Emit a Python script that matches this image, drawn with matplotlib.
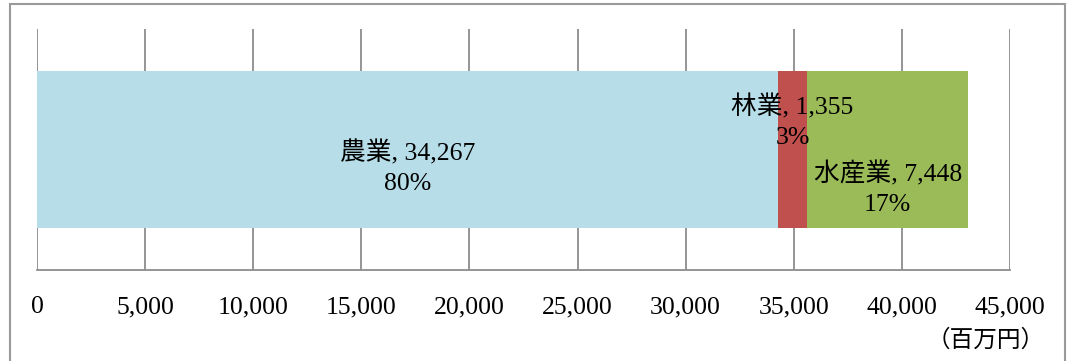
import matplotlib.pyplot as plt
from matplotlib.patches import Rectangle

plt.rcParams['font.family'] = ['Liberation Serif', 'Noto Sans CJK JP']

# 部門別の産出額（百万円）
sectors = ['農業', '林業', '水産業']
values = [34267, 1355, 7448]
colors = ['#B7DEE8', '#C0504D', '#9BBB59']
# ラベルの縦方向のずらし（ポイント）
label_dy = [-13, 20, -28]

xticks = list(range(0, 45001, 5000))

fig = plt.figure(figsize=(10.72, 3.61), dpi=100)
ax = fig.add_axes([0.0345, 0.252, 0.9077, 0.6676])

total = sum(values)
left = 0
for name, v, c, dy in zip(sectors, values, colors, label_dy):
    ax.barh(0, v, left=left, height=0.65, color=c, zorder=2)
    pct = round(v / total * 100)
    ax.annotate(f'{name}, {v:,}\n{pct}%', xy=(left + v / 2, 0),
                xytext=(0, dy), textcoords='offset points',
                ha='center', va='center', fontsize=18.5,
                linespacing=1.42, zorder=3)
    left += v

ax.set_xlim(0, 45000)
ax.set_ylim(-0.5, 0.5)
ax.set_xticks(xticks)
ax.set_xticklabels([f'{t:,}' for t in xticks], fontsize=18.5)
ax.tick_params(axis='x', length=0, pad=19)
ax.set_yticks([])
ax.grid(axis='x', color='#8c8c8c', linewidth=1.3, zorder=0)
ax.set_axisbelow(True)
for s in ['top', 'left', 'right']:
    ax.spines[s].set_visible(False)
ax.spines['bottom'].set_color('#8c8c8c')
ax.spines['bottom'].set_linewidth(1.3)

fig.text(0.975, 0.058, '（百万円）', ha='right', va='center', fontsize=17)

# 外枠
fig.patches.append(Rectangle((0.0093, -0.05), 0.984, 1.039,
                             transform=fig.transFigure, fill=False,
                             edgecolor='#9a9a9a', linewidth=1.5))

fig.savefig('out.png', dpi=100)
